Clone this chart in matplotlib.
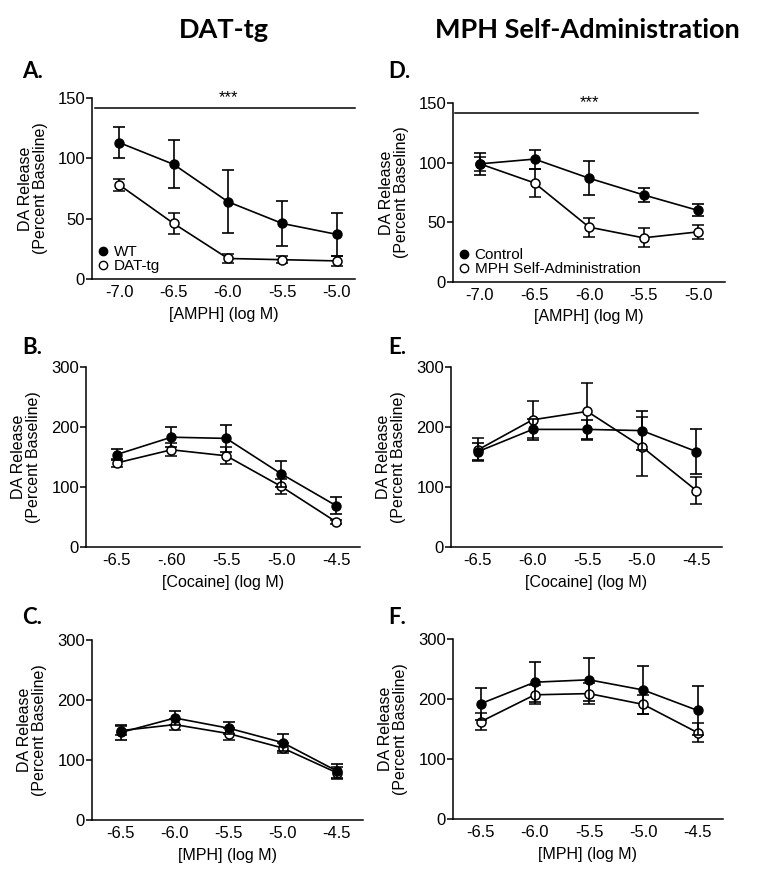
import matplotlib
matplotlib.use("Agg")
import matplotlib.pyplot as plt
from matplotlib.lines import Line2D

plt.rcParams['font.family'] = ['Liberation Sans', 'DejaVu Sans']

# ---------------- data ----------------
amph_x = [-7.0, -6.5, -6.0, -5.5, -5.0]
amph_ticklabels = ['-7.0', '-6.5', '-6.0', '-5.5', '-5.0']
coc_x = [-6.5, -6.0, -5.5, -5.0, -4.5]
cocB_ticklabels = ['-6.5', '-.60', '-5.5', '-5.0', '-4.5']
coc_ticklabels = ['-6.5', '-6.0', '-5.5', '-5.0', '-4.5']
mph_x = [-6.5, -6.0, -5.5, -5.0, -4.5]
mph_ticklabels = ['-6.5', '-6.0', '-5.5', '-5.0', '-4.5']

A_wt = [113, 95, 64, 46, 37]
A_wt_err = [13, 20, 26, 19, 18]
A_tg = [78, 46, 17, 16, 15]
A_tg_err = [5, 9, 4, 3, 4]

D_ctrl = [99, 103, 87, 73, 60]
D_ctrl_err = [9, 8, 14, 6, 5]
D_mph = [99, 83, 46, 37, 42]
D_mph_err = [6, 12, 8, 8, 6]

B_wt = [154, 183, 181, 122, 69]
B_wt_err = [9, 17, 23, 22, 14]
B_tg = [140, 162, 152, 101, 42]
B_tg_err = [7, 11, 14, 13, 3]

E_ctrl = [159, 196, 196, 194, 159]
E_ctrl_err = [14, 17, 16, 33, 37]
E_mph = [162, 212, 226, 167, 94]
E_mph_err = [19, 31, 48, 49, 22]

C_wt = [146, 170, 153, 129, 82]
C_wt_err = [13, 11, 10, 14, 12]
C_tg = [149, 159, 144, 120, 79]
C_tg_err = [8, 9, 10, 8, 10]

F_ctrl = [192, 228, 232, 215, 181]
F_ctrl_err = [27, 33, 36, 40, 41]
F_mph = [162, 207, 209, 191, 144]
F_mph_err = [14, 16, 17, 16, 16]

# ---------------- layout ----------------
W, H = 772, 880
fig = plt.figure(figsize=(W / 100, H / 100), dpi=100)


def make_ax(left, right, top, bottom, t1, p1, t2, p2, ymax, yticks):
    ax = fig.add_axes([left / W, 1 - bottom / H, (right - left) / W, (bottom - top) / H])
    scale = (p2 - p1) / (t2 - t1)
    ax.set_xlim(t1 - (p1 - left) / scale, t2 + (right - p2) / scale)
    ax.set_ylim(0, ymax)
    ax.set_yticks(yticks)
    for s in ['top', 'right']:
        ax.spines[s].set_visible(False)
    for s in ['left', 'bottom']:
        ax.spines[s].set_linewidth(1.1)
    ax.tick_params(axis='y', length=4, width=1.1, labelsize=12, pad=1)
    ax.tick_params(axis='x', length=0, labelsize=12, pad=4)
    ax.set_ylabel('DA Release\n(Percent Baseline)', fontsize=11.5, labelpad=7, linespacing=1.0)
    return ax


def plot_pair(ax, x, y1, e1, y2, e2):
    ax.errorbar(x, y2, yerr=e2, color='black', lw=1.2, marker='o', ms=6.5,
                mfc='white', mec='black', mew=1.1, capsize=4.5, elinewidth=1.2,
                capthick=1.2, zorder=3)
    ax.errorbar(x, y1, yerr=e1, color='black', lw=1.2, marker='o', ms=6.5,
                mfc='black', mec='black', capsize=4.5, elinewidth=1.2,
                capthick=1.2, zorder=4)


def add_legend(ax, labels):
    h1 = Line2D([], [], color='black', marker='o', ls='none', ms=6, mfc='black')
    h2 = Line2D([], [], color='black', marker='o', ls='none', ms=6, mfc='white')
    ax.legend([h1, h2], labels, loc='lower left', bbox_to_anchor=(-0.01, -0.02),
              frameon=False, fontsize=11, handlelength=0.6, handletextpad=0.4,
              labelspacing=0.0, borderaxespad=0.2)


# Panel A
axA = make_ax(92, 355, 98, 279, -7.0, 119.3, -5.0, 336.7, 150, [0, 50, 100, 150])
plot_pair(axA, amph_x, A_wt, A_wt_err, A_tg, A_tg_err)
axA.set_xticks(amph_x)
axA.set_xticklabels(amph_ticklabels)
axA.set_xlabel('[AMPH] (log M)', fontsize=11.5, labelpad=5)
axA.plot([axA.get_xlim()[0] + 0.03, axA.get_xlim()[1]], [142, 142], color='black', lw=1.1, clip_on=False)
axA.text(-6.0, 144, '***', ha='center', va='bottom', fontsize=12)
add_legend(axA, ['WT', 'DAT-tg'])

# Panel D
axD = make_ax(453, 725, 103, 282, -7.0, 480, -5.0, 698, 150, [0, 50, 100, 150])
plot_pair(axD, amph_x, D_ctrl, D_ctrl_err, D_mph, D_mph_err)
axD.set_xticks(amph_x)
axD.set_xticklabels(amph_ticklabels)
axD.set_xlabel('[AMPH] (log M)', fontsize=11.5, labelpad=5)
axD.plot([axD.get_xlim()[0] + 0.02, -5.0], [142, 142], color='black', lw=1.1, clip_on=False)
axD.text(-6.0, 144, '***', ha='center', va='bottom', fontsize=12)
add_legend(axD, ['Control', 'MPH Self-Administration'])

# Panel B
axB = make_ax(86, 360, 367, 547, -6.5, 116.5, -4.5, 336, 300, [0, 100, 200, 300])
plot_pair(axB, coc_x, B_wt, B_wt_err, B_tg, B_tg_err)
axB.set_xticks(coc_x)
axB.set_xticklabels(cocB_ticklabels)
axB.set_xlabel('[Cocaine] (log M)', fontsize=11.5, labelpad=5)

# Panel E
axE = make_ax(451, 722, 367, 547, -6.5, 478, -4.5, 696.5, 300, [0, 100, 200, 300])
plot_pair(axE, coc_x, E_ctrl, E_ctrl_err, E_mph, E_mph_err)
axE.set_xticks(coc_x)
axE.set_xticklabels(coc_ticklabels)
axE.set_xlabel('[Cocaine] (log M)', fontsize=11.5, labelpad=5)

# Panel C
axC = make_ax(92, 363, 640, 820, -6.5, 121, -4.5, 336.5, 300, [0, 100, 200, 300])
plot_pair(axC, mph_x, C_wt, C_wt_err, C_tg, C_tg_err)
axC.set_xticks(mph_x)
axC.set_xticklabels(mph_ticklabels)
axC.set_xlabel('[MPH] (log M)', fontsize=11.5, labelpad=5)

# Panel F
axF = make_ax(453, 723, 639, 819, -6.5, 480.5, -4.5, 697.5, 300, [0, 100, 200, 300])
plot_pair(axF, mph_x, F_ctrl, F_ctrl_err, F_mph, F_mph_err)
axF.set_xticks(mph_x)
axF.set_xticklabels(mph_ticklabels)
axF.set_xlabel('[MPH] (log M)', fontsize=11.5, labelpad=5)

# Headers and panel letters
hdr = dict(fontsize=19.5, fontweight='bold', family=['Lato', 'DejaVu Sans'], ha='center', va='center')
fig.text(224 / W, 1 - 30 / H, 'DAT-tg', **hdr)
fig.text(587 / W, 1 - 30 / H, 'MPH Self-Administration', **hdr)
let = dict(fontsize=16, fontweight='bold', family=['Lato', 'DejaVu Sans'], ha='left', va='center')
for txt, px, py in [('A.', 22, 72), ('D.', 388, 72), ('B.', 22, 347),
                    ('E.', 388, 347), ('C.', 22, 618), ('F.', 388, 618)]:
    fig.text(px / W, 1 - py / H, txt, **let)

fig.savefig('out.png', dpi=100)
